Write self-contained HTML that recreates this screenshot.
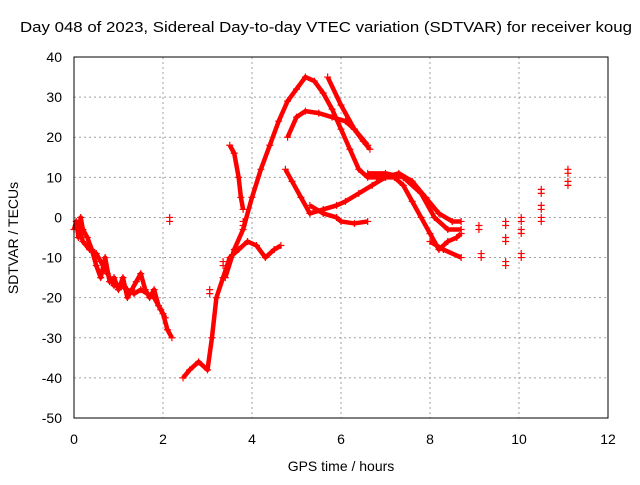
<!DOCTYPE html>
<html><head><meta charset="utf-8"><style>
body{margin:0;background:#fff}
svg text{font-family:"Liberation Sans",sans-serif;font-size:14px;fill:#000}
</style></head><body>
<svg id="chart" width="640" height="480">
<rect width="640" height="480" fill="#fff"/>
<text x="20" y="32" textLength="612" lengthAdjust="spacingAndGlyphs" style="font-size:15px">Day 048 of 2023, Sidereal Day-to-day VTEC variation (SDTVAR) for receiver koug</text>
<text x="341" y="471" text-anchor="middle">GPS time / hours</text>
<text transform="translate(18,238) rotate(-90)" text-anchor="middle">SDTVAR / TECUs</text>
<g id="grid"></g><g id="ticks"></g><g id="marks"></g>
<rect x="74" y="57" width="534" height="361" fill="none" stroke="#000"/>
</svg>
<script>
const xTicks=[0,2,4,6,8,10,12];
const yTicks=[40,30,20,10,0,-10,-20,-30,-40,-50];
const trackA=[[0,-3],[0.05,-1],[0.1,-5],[0.15,0],[0.2,-3],[0.3,-5],[0.4,-8],[0.5,-12],[0.6,-15],[0.7,-10],[0.8,-16],[0.9,-15],[1.0,-18],[1.1,-15],[1.2,-20],[1.3,-18],[1.4,-16],[1.5,-14],[1.6,-18],[1.7,-20],[1.8,-18],[1.9,-22],[2.0,-24],[2.1,-28],[2.2,-30]];
const trackA2=[[0.1,-2],[0.2,-6],[0.35,-8],[0.5,-9],[0.6,-11],[0.75,-14],[0.9,-17],[1.05,-17],[1.2,-18],[1.35,-19],[1.5,-18],[1.65,-19],[1.8,-20],[1.95,-23],[2.05,-25]];
const trackB=[[2.45,-40],[2.6,-38],[2.8,-36],[3.0,-38],[3.1,-30],[3.2,-20],[3.35,-15],[3.5,-10],[3.7,-8],[3.9,-6],[4.1,-7],[4.3,-10],[4.5,-8],[4.65,-7]];
const trackC=[[3.4,-15],[3.6,-8],[3.8,-3],[4.0,5],[4.2,12],[4.4,18],[4.6,24],[4.8,29],[5.0,32],[5.2,35],[5.4,34],[5.6,31],[5.8,27],[6.0,22],[6.2,17],[6.4,12],[6.6,10],[6.8,10],[7.0,10],[7.2,10],[7.4,8],[7.6,4],[7.8,0],[8.0,-4],[8.2,-8],[8.4,-6],[8.6,-5],[8.7,-4]];
const trackD=[[4.8,20],[5.0,25],[5.2,26.5],[5.5,26],[5.8,25],[6.1,24],[6.3,22],[6.5,19],[6.65,17]];
const trackE=[[3.5,18],[3.6,16],[3.7,10],[3.75,5],[3.8,2]];
const trackF=[[4.75,12],[4.9,9],[5.1,5],[5.3,1],[5.6,2],[5.9,3],[6.1,4],[6.4,6],[6.7,8],[7.0,10],[7.3,11],[7.6,9],[7.9,5],[8.2,1],[8.5,-1],[8.7,-1]];
const trackG=[[5.3,3],[5.6,1],[5.9,0],[6.0,-1],[6.3,-1.5],[6.6,-1]];
const trackH=[[5.7,35],[6.0,28],[6.3,22],[6.6,18]];
const trackI=[[6.6,11],[7.0,11],[7.4,10],[7.8,6],[8.1,0],[8.4,-3],[8.7,-3]];
const trackJ=[[8.0,-6],[8.3,-8],[8.7,-10]];
const isolated=[[2.15,-1],[3.05,-19],[3.35,-12],[3.8,-2],[9.1,-3],[9.15,-10],[9.7,-2],[9.7,-6],[9.7,-12],[10.05,-1],[10.05,-4],[10.05,-10],[10.5,6],[10.5,2],[10.5,-1],[11.1,11],[11.1,8]];
const tracks=[trackA,trackA2,trackB,trackC,trackD,trackE,trackF,trackG,trackH,trackI,trackJ];
const X=v=>74+v*534/12, Y=v=>57+(40-v)*361/90;
const NS='http://www.w3.org/2000/svg';
const grid=document.getElementById('grid'),ticks=document.getElementById('ticks'),marks=document.getElementById('marks');
function mk(tag,attrs,parent){const e=document.createElementNS(NS,tag);for(const k in attrs)e.setAttribute(k,attrs[k]);parent.appendChild(e);return e;}
xTicks.forEach(t=>{
 const g=mk('line',{x1:X(t),x2:X(t),y1:57,y2:418,stroke:'#a0a0a0','stroke-dasharray':'2,3'},grid);
 
 
 const l=mk('text',{x:X(t),y:444,'text-anchor':'middle'},ticks);l.textContent=t;
 
 
});
yTicks.forEach(t=>{
 const g=mk('line',{x1:74,x2:608,y1:Y(t),y2:Y(t),stroke:'#a0a0a0','stroke-dasharray':'2,3'},grid);
 
 
 const l=mk('text',{x:62,y:Y(t)+5,'text-anchor':'end'},ticks);l.textContent=t;
 
 
});
function plus(x,y){
 const p=mk('path',{d:`M${X(x)-3.5},${Y(y)}h7M${X(x)},${Y(y)-3.5}v7`,stroke:'#f00','stroke-width':1.2},marks);
 
 
}
tracks.forEach(tr=>{
 const pl=mk('polyline',{points:tr.map(p=>X(p[0])+','+Y(p[1])).join(' '),fill:'none',stroke:'#f00','stroke-width':4.5,'stroke-linejoin':'round'},marks);
 
 
 tr.forEach(p=>plus(p[0],p[1]));
});
isolated.forEach(p=>{plus(p[0],p[1]);plus(p[0],p[1]+1);});
</script>
</body></html>
